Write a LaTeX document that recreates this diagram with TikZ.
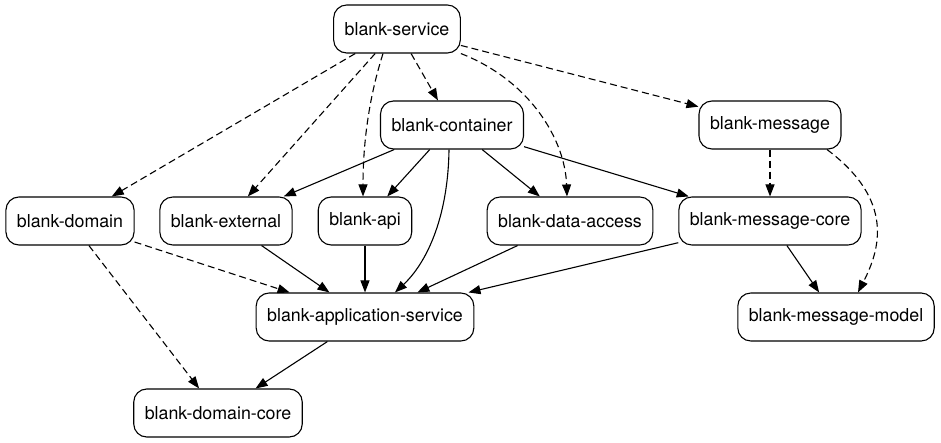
\documentclass[tikz,border=0pt]{standalone}
\usepackage{fontspec}
\setmainfont{TeX Gyre Heros}
\usetikzlibrary{arrows.meta}

\begin{document}
\begin{tikzpicture}[
  x=1pt, y=-1pt,
  font=\fontsize{17.8}{20}\selectfont,
  >={Triangle[length=12pt,width=9pt]},
  mod/.style={draw, rounded corners=13pt, minimum height=48pt,
              inner xsep=11pt, line width=1.1pt},
  dep/.style={->, line width=1.1pt},
  opt/.style={dep, dash pattern=on 7pt off 4pt},
]
\useasboundingbox (0,0) rectangle (941,443);

% rank 0/1
\node[mod] (service)   at (397,29)  {blank-service};
\node[mod] (container) at (452,125) {blank-container};
\node[mod] (message)   at (770,125) {blank-message};

% rank 2
\node[mod] (domain)     at (70,221)  {blank-domain};
\node[mod] (external)   at (226,221) {blank-external};
\node[mod] (api)        at (365,221) {blank-api};
\node[mod] (dataaccess) at (570,221) {blank-data-access};
\node[mod] (msgcore)    at (770,221) {blank-message-core};

% rank 3/4
\node[mod] (appsvc)   at (365,317) {blank-application-service};
\node[mod] (msgmodel) at (836,317) {blank-message-model};
\node[mod] (domcore)  at (218,413) {blank-domain-core};

% from service (optional deps)
\draw[opt] (service) -- (domain);
\draw[opt] (service) -- (external);
\draw[opt] ([xshift=-14pt]service.south)
  .. controls +(-15,47) and +(0,-50) .. ([xshift=-2pt]api.north);
\draw[opt] (service) -- (container);
\draw[opt] (service.south east)
  .. controls +(69,27) and +(-2,-57) .. ([xshift=-3pt]dataaccess.north);
\draw[opt] (service) -- (message);

% from container
\draw[dep] (container) -- (external);
\draw[dep] (container) -- (api);
\draw[dep] ([xshift=-3pt]container.south)
  .. controls +(-1,71) and +(30,-28) .. ([xshift=30pt]appsvc.north);
\draw[dep] (container) -- (dataaccess);
\draw[dep] (container) -- (msgcore);

% message side
\draw[opt] (message) -- (msgcore);
\draw[opt] ([xshift=57pt]message.south)
  .. controls +(68,51) and +(22,-43) .. ([xshift=22pt]msgmodel.north);
\draw[dep] (msgcore) -- (msgmodel);

% into application service
\draw[opt] (domain) -- (appsvc);
\draw[dep] (external) -- (appsvc);
\draw[dep] (api) -- (appsvc);
\draw[dep] (dataaccess) -- (appsvc);
\draw[dep] (msgcore) -- (appsvc);

% domain core
\draw[opt] (domain) -- (domcore);
\draw[dep] (appsvc) -- (domcore);

\end{tikzpicture}
\end{document}
